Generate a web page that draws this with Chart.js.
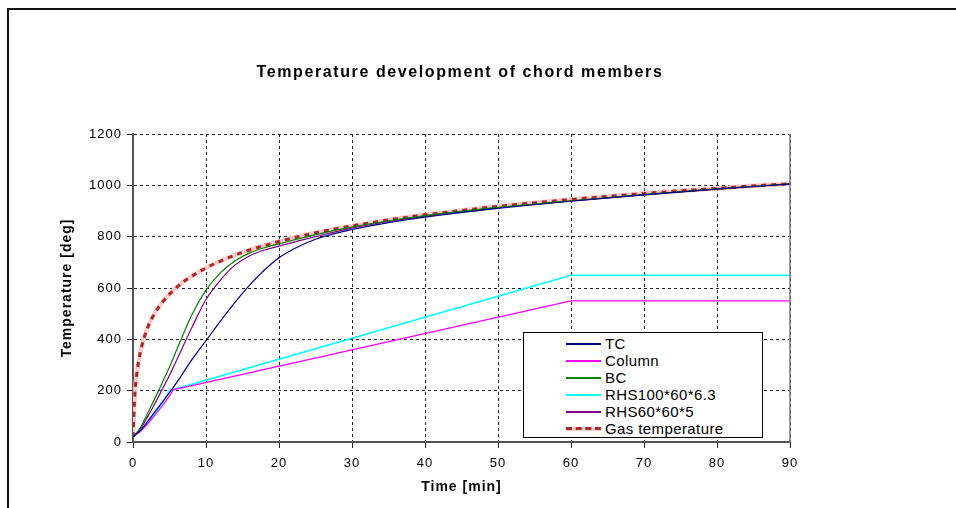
<!DOCTYPE html>
<html>
<head>
<meta charset="utf-8">
<script src="https://cdn.jsdelivr.net/npm/chart.js@4"></script>
<style>
  body { margin: 0; background: #fff; }
  #wrap { position: relative; width: 956px; height: 508px; overflow: hidden; }
  #frame { position: absolute; left: 7px; top: 8px; width: 1000px; height: 600px; border: 2px solid #111; box-sizing: border-box; }
  #myChart { position: absolute; left: 0; top: 0; }
  #title { position: absolute; left: 0; top: 63px; width: 920px; text-align: center; line-height: 18px;
           font: bold 16px "Liberation Sans", Arial, sans-serif; letter-spacing: 1.6px; color: #000; }
  #legend { position: absolute; left: 523px; top: 332px; width: 240px; height: 106px; border: 1px solid #000;
            background: #fff; box-sizing: border-box; font: 15px "Liberation Sans", Arial, sans-serif; letter-spacing: 0.4px; padding-top: 2px; }
  #legend .row { height: 17px; line-height: 17px; display: flex; align-items: center; }
  #legend .sw { width: 35px; margin-left: 42px; margin-right: 4px; height: 0; }
</style>
</head>
<body>
<div id="wrap">
  <div id="frame"></div>
  <canvas id="myChart" width="956" height="508"></canvas>
  <div id="title">Temperature development of chord members</div>
  <div id="legend"></div>
</div>
<script>
// time points [min] and temperatures [deg]
var timeTC = [0, 1, 2, 3, 4, 5, 6, 7, 8, 10, 12, 14, 16, 18, 20, 22, 25, 30, 35, 40, 50, 60, 70, 80, 90]
var tempTC = [20, 45, 80, 118, 155, 192, 232, 275, 318, 395, 472, 545, 612, 670, 718, 752, 790, 828, 855, 876, 910, 938, 963, 985, 1005]

var timeBC = [0, 1, 2, 3, 4, 5, 6, 7, 8, 10, 12, 14, 16, 18, 20, 25, 30, 35, 40, 50, 60, 70, 80, 90]
var tempBC = [20, 55, 112, 170, 230, 292, 360, 428, 492, 592, 660, 706, 737, 757, 772, 808, 838, 862, 882, 914, 940, 964, 986, 1006]

var timeRHS60 = [0, 1, 2, 3, 4, 5, 6, 7, 8, 10, 12, 14, 16, 18, 20, 25, 30, 35, 40, 50, 60, 70, 80, 90]
var tempRHS60 = [20, 50, 98, 150, 205, 260, 320, 382, 442, 555, 632, 690, 726, 748, 763, 800, 833, 859, 880, 913, 939, 964, 986, 1006]

var timeColumn = [0, 1, 2, 3, 4, 5, 5.5, 60, 90]
var tempColumn = [20, 40, 70, 105, 140, 180, 203, 550, 550]

var timeRHS100 = [0, 1, 2, 3, 4, 5, 60, 90]
var tempRHS100 = [20, 45, 75, 110, 150, 200, 650, 650]

var timeGas = [0, 0.25, 0.5, 1, 2, 3, 4, 5, 6, 7, 8, 10, 12, 15, 20, 25, 30, 35, 40, 45, 50, 55, 60, 65, 70, 75, 80, 85, 90]
var tempGas = [20, 185, 261, 349, 445, 502, 544, 576, 603, 626, 645, 678, 705, 739, 781, 815, 842, 865, 885, 902, 918, 932, 945, 957, 968, 979, 988, 998, 1006]

var xTicks = [0, 10, 20, 30, 40, 50, 60, 70, 80, 90]
var yTicks = [0, 200, 400, 600, 800, 1000, 1200]

function pts(xs, ys) {
  return xs.map(function (x, i) { return {x: x, y: ys[i]} })
}

const ctx = document.getElementById('myChart').getContext('2d');
const FONT = '"Liberation Sans", Arial, sans-serif'

var datasets = [
  {label: 'TC', data: pts(timeTC, tempTC), borderColor: '#000080', borderWidth: 1.2, cubicInterpolationMode: 'monotone'},
  {label: 'Column', data: pts(timeColumn, tempColumn), borderColor: '#FF00FF', borderWidth: 1.2, tension: 0},
  {label: 'BC', data: pts(timeBC, tempBC), borderColor: '#008000', borderWidth: 1.2, cubicInterpolationMode: 'monotone'},
  {label: 'RHS100*60*6.3', data: pts(timeRHS100, tempRHS100), borderColor: '#00FFFF', borderWidth: 1.5, tension: 0},
  {label: 'RHS60*60*5', data: pts(timeRHS60, tempRHS60), borderColor: '#800080', borderWidth: 1.2, cubicInterpolationMode: 'monotone'},
  {label: 'Gas temperature', data: pts(timeGas, tempGas), borderColor: '#FFCCCC', borderWidth: 4.5, cubicInterpolationMode: 'monotone', isUnder: true},
  {label: 'Gas temperature', data: pts(timeGas, tempGas), borderColor: '#A52A2A', borderWidth: 3, borderDash: [5, 5], cubicInterpolationMode: 'monotone'}
]
// draw order: gas underneath member curves
datasets[5].order = 10
datasets[6].order = 9

const plotFrame = {
  id: 'plotFrame',
  beforeDraw(chart) {
    chart.ctx.letterSpacing = '1px'
  },
  afterDatasetsDraw(chart) {
    var a = chart.chartArea, c = chart.ctx
    c.save()
    c.strokeStyle = '#777'
    c.lineWidth = 1.5
    c.beginPath()
    c.moveTo(a.right, a.top)
    c.lineTo(a.right, a.bottom)
    c.stroke()
    c.restore()
  }
}

new Chart(ctx, {
  type: 'line',
  data: {datasets: datasets},
  options: {
    responsive: false,
    animation: false,
    elements: {point: {radius: 0}},
    layout: {padding: {left: 56, right: 166, top: 134, bottom: 10}},
    plugins: {
      legend: {display: false},
      tooltip: {enabled: false}
    },
    scales: {
      x: {
        type: 'linear',
        min: 0, max: 90,
        afterBuildTicks: function (s) { s.ticks = xTicks.map(function (v) { return {value: v} }) },
        afterFit: function (s) { s.height = 56 },
        ticks: {color: '#000', font: {family: FONT, size: 13}, padding: 8, callback: function (v) { return String(v) }},
        grid: {color: '#222', lineWidth: 1, tickLength: 6, tickColor: '#222'},
        border: {color: '#555', width: 2, dash: [3, 3]},
        title: {display: true, text: 'Time [min]', color: '#000', font: {family: FONT, size: 14, weight: 'bold'}, padding: {top: 2, bottom: 2}}
      },
      y: {
        min: 0, max: 1200,
        afterBuildTicks: function (s) { s.ticks = yTicks.map(function (v) { return {value: v} }) },
        afterFit: function (s) { s.width = 133 - 56 },
        ticks: {color: '#000', font: {family: FONT, size: 13}, padding: 5, callback: function (v) { return String(v) }},
        grid: {color: '#222', lineWidth: 1, tickLength: 6, tickColor: '#222'},
        border: {color: '#555', width: 2, dash: [3, 3]},
        title: {display: true, text: 'Temperature [deg]', color: '#000', font: {family: FONT, size: 14, weight: 'bold'}, padding: {top: 3, bottom: 4}}
      }
    }
  },
  plugins: [plotFrame]
});

// legend box inside the plot, built from the datasets
var lg = document.getElementById('legend')
datasets.forEach(function (d) {
  if (d.isUnder) return
  var row = document.createElement('div')
  row.className = 'row'
  var sw = document.createElement('span')
  sw.className = 'sw'
  if (d.borderDash) {
    sw.style.background = '#FFCCCC'
    sw.style.borderTop = '3px dashed ' + d.borderColor
    sw.style.height = '1px'
  } else {
    sw.style.borderTop = '2px solid ' + d.borderColor
  }
  var tx = document.createElement('span')
  tx.textContent = d.label
  row.appendChild(sw)
  row.appendChild(tx)
  lg.appendChild(row)
})
</script>
</body>
</html>
